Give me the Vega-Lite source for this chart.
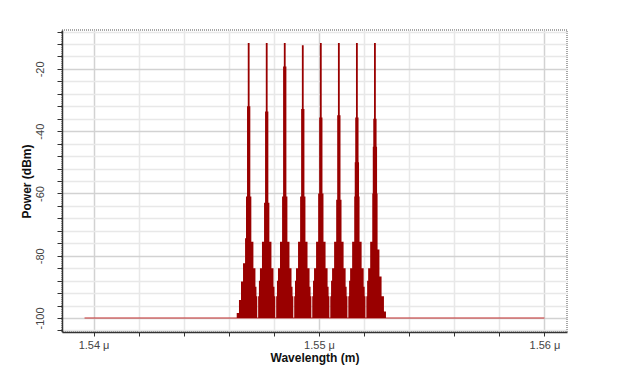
{
  "$schema": "https://vega.github.io/schema/vega-lite/v6.json",
  "width": 505,
  "height": 302,
  "autosize": {"type": "none"},
  "padding": {"left": 62, "top": 30, "right": 52, "bottom": 35},
  "background": "white",
  "config": {
    "font": "Liberation Sans",
    "view": {"stroke": "#8a8a8a", "strokeDash": [1, 1], "strokeWidth": 1.5}
  },
  "datasets": {
    "base": [{"w": 1.5396, "p": -100}, {"w": 1.56, "p": -100}],
    "spec": [
      {"w": 1.54635, "p": -98.4}, {"w": 1.54645, "p": -94.2}, {"w": 1.54654, "p": -88.3}, {"w": 1.54663, "p": -82.4}, {"w": 1.54672, "p": -74.4},
      {"w": 1.546762, "p": -61}, {"w": 1.546807, "p": -32}, {"w": 1.54684, "p": -11.7}, {"w": 1.54692, "p": -32}, {"w": 1.546953, "p": -61},
      {"w": 1.546998, "p": -75.5}, {"w": 1.54709, "p": -84}, {"w": 1.54718, "p": -90}, {"w": 1.547225, "p": -93}, {"w": 1.54726, "p": -100},

      {"w": 1.5473, "p": -93}, {"w": 1.547335, "p": -88}, {"w": 1.54738, "p": -84}, {"w": 1.54747, "p": -75.5},
      {"w": 1.547562, "p": -63}, {"w": 1.547607, "p": -33.7}, {"w": 1.54764, "p": -11.7}, {"w": 1.54772, "p": -33.7}, {"w": 1.547753, "p": -63},
      {"w": 1.547798, "p": -75.5}, {"w": 1.54789, "p": -84}, {"w": 1.54798, "p": -90}, {"w": 1.548025, "p": -93}, {"w": 1.54806, "p": -100},

      {"w": 1.5481, "p": -93}, {"w": 1.548135, "p": -88}, {"w": 1.54818, "p": -84}, {"w": 1.54827, "p": -75.5},
      {"w": 1.548362, "p": -61}, {"w": 1.548407, "p": -19.2}, {"w": 1.54844, "p": -11.7}, {"w": 1.54852, "p": -19.2}, {"w": 1.548553, "p": -61},
      {"w": 1.548598, "p": -75.5}, {"w": 1.54869, "p": -84}, {"w": 1.54878, "p": -90}, {"w": 1.548825, "p": -93}, {"w": 1.54886, "p": -100},

      {"w": 1.5489, "p": -93}, {"w": 1.548935, "p": -88}, {"w": 1.54898, "p": -84}, {"w": 1.54907, "p": -75.5},
      {"w": 1.549162, "p": -61}, {"w": 1.549207, "p": -32.9}, {"w": 1.54924, "p": -12.4}, {"w": 1.54932, "p": -32.9}, {"w": 1.549353, "p": -61},
      {"w": 1.549398, "p": -75.5}, {"w": 1.54949, "p": -84}, {"w": 1.54958, "p": -90}, {"w": 1.549625, "p": -93}, {"w": 1.54966, "p": -100},

      {"w": 1.5497, "p": -93}, {"w": 1.549735, "p": -88}, {"w": 1.54978, "p": -84}, {"w": 1.54987, "p": -75.5},
      {"w": 1.549962, "p": -60}, {"w": 1.550007, "p": -35.6}, {"w": 1.55004, "p": -11.7}, {"w": 1.55012, "p": -35.6}, {"w": 1.550153, "p": -60},
      {"w": 1.550198, "p": -75.5}, {"w": 1.55029, "p": -84}, {"w": 1.55038, "p": -90}, {"w": 1.550425, "p": -93}, {"w": 1.55046, "p": -100},

      {"w": 1.5505, "p": -93}, {"w": 1.550535, "p": -88}, {"w": 1.55058, "p": -84}, {"w": 1.55067, "p": -75.5},
      {"w": 1.550762, "p": -62}, {"w": 1.550807, "p": -34.9}, {"w": 1.55084, "p": -11.7}, {"w": 1.55092, "p": -34.9}, {"w": 1.550953, "p": -62},
      {"w": 1.550998, "p": -75.5}, {"w": 1.55109, "p": -84}, {"w": 1.55118, "p": -90}, {"w": 1.551225, "p": -93}, {"w": 1.55126, "p": -100},

      {"w": 1.5513, "p": -93}, {"w": 1.551335, "p": -88}, {"w": 1.55138, "p": -84}, {"w": 1.55147, "p": -75.5},
      {"w": 1.551562, "p": -61}, {"w": 1.551585, "p": -50}, {"w": 1.551607, "p": -35.6}, {"w": 1.55164, "p": -11.7}, {"w": 1.55172, "p": -35.6},
      {"w": 1.551753, "p": -50}, {"w": 1.551775, "p": -61},
      {"w": 1.551798, "p": -75.5}, {"w": 1.55189, "p": -84}, {"w": 1.55198, "p": -90}, {"w": 1.552025, "p": -93}, {"w": 1.55206, "p": -100},

      {"w": 1.5521, "p": -93}, {"w": 1.552135, "p": -88}, {"w": 1.55218, "p": -84}, {"w": 1.55227, "p": -75.5},
      {"w": 1.552362, "p": -60}, {"w": 1.552385, "p": -45}, {"w": 1.552407, "p": -36}, {"w": 1.55244, "p": -11.7}, {"w": 1.55252, "p": -36},
      {"w": 1.552553, "p": -45}, {"w": 1.552575, "p": -60},
      {"w": 1.552598, "p": -78}, {"w": 1.55268, "p": -86.7}, {"w": 1.552775, "p": -93}, {"w": 1.55288, "p": -97.9}, {"w": 1.55297, "p": -100}
    ]
  },
  "encoding": {
    "x": {
      "field": "w",
      "type": "quantitative",
      "scale": {"domain": [1.5386, 1.561], "nice": false, "zero": false},
      "axis": {
        "values": [1.54, 1.542, 1.544, 1.546, 1.548, 1.55, 1.552, 1.554, 1.556, 1.558, 1.56],
        "labelExpr": "abs(datum.value * 100 - round(datum.value * 100)) < 0.001 ? format(datum.value, '.2f') + ' μ' : ''",
        "labelOverlap": false,
        "labelFlush": false,
        "labelFontSize": 11,
        "labelColor": "#444",
        "labelPadding": 3,
        "tickSize": 4,
        "tickColor": "#333",
        "domainColor": "#333",
        "domainWidth": 1.5,
        "gridColor": {"condition": {"test": "abs(datum.value * 100 - round(datum.value * 100)) < 0.001", "value": "#d2d2d2"}, "value": "#e8e8e8"},
        "gridWidth": 1.5,
        "title": "Wavelength (m)",
        "titleFontSize": 12,
        "titleFontWeight": "bold",
        "titleColor": "#111",
        "titlePadding": 2
      }
    },
    "y": {
      "field": "p",
      "type": "quantitative",
      "scale": {"domain": [-104.5, -7.5], "nice": false, "zero": false},
      "axis": {
        "values": [-104, -100, -96, -92, -88, -84, -80, -76, -72, -68, -64, -60, -56, -52, -48, -44, -40, -36, -32, -28, -24, -20, -16, -12, -8],
        "labelExpr": "datum.value % 20 === 0 ? '' + datum.value : ''",
        "labelOverlap": false,
        "labelFlush": false,
        "labelAngle": -90,
        "labelFontSize": 11,
        "labelColor": "#444",
        "labelPadding": 12,
        "tickSize": 5,
        "tickColor": "#333",
        "domainColor": "#333",
        "domainWidth": 1.5,
        "gridColor": {"condition": {"test": "datum.value % 20 === 0", "value": "#d2d2d2"}, "value": "#e8e8e8"},
        "gridWidth": 1.5,
        "title": "Power (dBm)",
        "titleFontSize": 12,
        "titleFontWeight": "bold",
        "titleColor": "#111",
        "titlePadding": 1
      }
    }
  },
  "layer": [
    {
      "data": {"name": "base"},
      "mark": {"type": "line", "color": "#c83030", "strokeWidth": 1.2}
    },
    {
      "data": {"name": "spec"},
      "mark": {"type": "area", "interpolate": "step-after", "color": "#990000"},
      "encoding": {"y2": {"datum": -100}}
    }
  ]
}
